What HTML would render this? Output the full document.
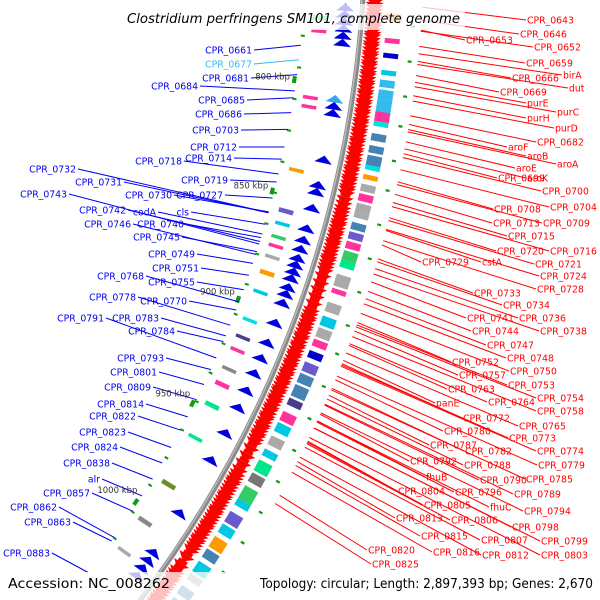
<!DOCTYPE html>
<html><head><meta charset="utf-8"><style>
html,body{margin:0;padding:0;background:#fff;width:600px;height:600px;overflow:hidden;}
svg{display:block;font-family:"DejaVu Sans","Liberation Sans",sans-serif;overflow:hidden;}
</style></head><body>
<svg id="map" width="600" height="600" viewBox="0 0 600 600" xmlns="http://www.w3.org/2000/svg">
<g id="feat"></g>
<g id="lines"></g>
<g id="labs"></g>
<rect x="120" y="4" width="345" height="26" fill="#fff" opacity="0.75"/>
<text x="127" y="23" font-size="13.5" font-style="italic" fill="#000" textLength="333" lengthAdjust="spacingAndGlyphs">Clostridium perfringens SM101, complete genome</text>
<rect x="0" y="572" width="600" height="28" fill="#fff" opacity="0.75"/>
<text x="8" y="588" font-size="13" fill="#000" textLength="162" lengthAdjust="spacingAndGlyphs">Accession: NC_008262</text>
<text x="260" y="588" font-size="13" fill="#000" textLength="333" lengthAdjust="spacingAndGlyphs">Topology: circular; Length: 2,897,393 bp; Genes: 2,670</text>
</svg>
<script>
const CX=-743, CY=-69, R=1108;
// forward-strand gene end positions (kbp)
const fwdEnds=[764,765.5,767,768,769.5,771,772,773.5,775,776,777.5,779,780,781.5,783,784,785.5,787,788,789.5,791,792,793.5,795,796,797.5,799,800,
801.5,803,804,805.5,807,808,809.5,811,812,813.5,815,816,817.5,819,820,821.5,823,824,825.5,827,828,829.5,831,832,833.5,835,836,837.5,839,840,841.5,843,844,845.5,
848,850,852,853.5,855,856.5,858,859,860.5,862,863,864.5,866,867,868.5,870,871.5,873,874,875.5,877,878.5,
881,884,887,890,893,
896,897.5,899,900,901.5,903,904,905.5,907,908,909.5,911,912,913.5,915,916,917.5,919,920,921.5,923,924,925.5,927,928,929.5,931,932,933.5,935,936,937.5,939,940,941.5,943,944,945.5,947,948,949.5,951,952,953.5,955,
958,961.5,965,968,
970,971.5,973,974,975.5,977,978.5,980,981,982.5,984,985.5,987,988,989.5,991,992.5,994,995,996.5,998,999.5,1001,1002,1003.5,1005,1006.5,
1010,1014,1017,1018.5,1020,1021,1022.5,1024,1025,1026.5,1028,1029.5,1031,1032,1033.5,1035];
// reverse-strand gene tip positions (kbp)
const revTips=[765,768,771,774,777,780,804,807,810,830,841,844,851,860,865,869,873,876,879,882,886,889,893,902,911,918,925,933,941,953,966,992,1012,1016,1020,1024];
const revColors=["#0000dd","#0000dd","#0000dd","#0000dd","#0000dd","#0000dd","#33aaee","#0000dd","#0000dd","#0000dd","#0000dd","#0000dd","#0000dd","#0000dd","#0000dd","#0000dd","#0000dd","#0000dd","#0000dd","#0000dd","#0000dd","#0000dd","#0000dd","#0000dd","#0000dd","#0000dd","#0000dd","#0000dd","#0000dd","#0000dd","#0000dd","#0000dd","#0000dd","#0000dd","#0000dd","#0000dd"];
// outer COG boxes: start kbp, length kbp, colour
const outStart=[768,778,784,791,795,799,803,808,812,817,822,826,830,834,838,842,846,850,854,858,862,866,870,876,882,888,894,899,904,909,914,919,924,930,936,941,947,953,958,964,970,976,982,988,994,1000,1006,1012,1018,1024,1030];
const outLen=[3,2,2,2,3,4,6,4,2,3,3,5,2,2,3,3,4,2,3,3,3,4,3,5,2,4,4,4,3,3,4,4,5,3,4,4,4,3,5,4,6,3,5,4,5,4,5,3,4,5,4];
const outColor=["#ff9900","#ff3399","#0000cc","#00c8e0","#33bbee","#33bbee","#33bbee","#ff3399","#00e0e0","#4682b4","#4682b4","#4682b4","#00e0e0","#ff9900","#aaaaaa","#ff3399","#aaaaaa","#aaaaaa","#4682b4","#6a5acd","#ff3399","#33cc66","#00e68a","#aaaaaa","#ff3399","#aaaaaa","#00c8e0","#aaaaaa","#ff3399","#0000cc","#6a5acd","#4682b4","#4682b4","#483d8b","#ff3399","#00c8e0","#aaaaaa","#00c8e0","#00e68a","#777777","#33cc66","#00c8e0","#6a5acd","#00c8e0","#ff9900","#4682b4","#00c8e0","#aaaaaa","#4682b4","#4682b4","#aaaaaa"];
// inner COG boxes
const inStart=[771,777,806,810,838,856,862,868,872,877,884,893,906,914,920,929,936,946,962,985,1004,1020];
const inLen=[2,1.5,1.5,1.5,1.5,2,1.5,1.5,1.5,1.5,2,1.5,1.5,1.5,1.5,1.5,2,2,1.5,2,2,1.5];
const inColor=["#00e68a","#ff3399","#ff3399","#ff3399","#ff9900","#6a5acd","#00c8e0","#33cc66","#ff3399","#aaaaaa","#ff9900","#00c8e0","#00e0e0","#483d8b","#ff3399","#888888","#ff3399","#00e68a","#00e68a","#6b8e23","#888888","#aaaaaa"];
// green marker dots (kbp)
const dotOut=[772,786,800,812,826,838,852,866,880,894,906,920,934,948,962,976,990,1004,1018,1032];
const dotIn=[780,794,808,822,836,850,864,878,892,906,920,934,948,962,976,990,1004,1018];
// tick labels
const tickKbp=[800,850,900,950,1000];
const tickText=["800 kbp","850 kbp","900 kbp","950 kbp","1000 kbp"];

const NS="http://www.w3.org/2000/svg";
function ang(k){return (8.15+(k-800)*0.1243)*Math.PI/180;}
function P(r,k){const t=ang(k);return [CX+r*Math.cos(t),CY+r*Math.sin(t)];}
function pts(a){return a.map(p=>p[0].toFixed(1)+","+p[1].toFixed(1)).join(" ");}
function mk(tag,attrs,parent){const e=document.createElementNS(NS,tag);for(const k in attrs)e.setAttribute(k,attrs[k]);parent.appendChild(e);return e;}
const feat=document.getElementById('feat'), lines=document.getElementById('lines'), labs=document.getElementById('labs');

function arcD(r,a,b){const p=P(r,a),q=P(r,b);return `M${p[0]},${p[1]} A${r},${r} 0 0 1 ${q[0]},${q[1]}`;}
let bb=mk('path',{d:arcD(R,750,1045),stroke:'#8a8a8a','stroke-width':5,fill:'none'},feat);


let bb2=mk('path',{d:arcD(R-1,750,1045),stroke:'#b8b8b8','stroke-width':1.5,fill:'none'},feat);



fwdEnds.forEach(e=>{
  const s=e-3.2;
  const poly=[P(R+3,s),P(R+21,s),P(R+12,e)];
  const g=mk('polygon',{points:pts(poly),fill:'#ff0000'},feat);
  
  
  const b=mk('polygon',{points:pts([P(R+7,s-1.5),P(R+17,s-1.5),P(R+17,s),P(R+7,s)]),fill:'#ff0000'},feat);
  
  
});
revTips.forEach((t,i)=>{
  const s=t+3.2;
  const poly=[P(R-8,s),P(R-26,s),P(R-17,t)];
  const g=mk('polygon',{points:pts(poly),fill:revColors[i]},feat);
  
  
});
function box(r1,r2,a,b,c,name){
  const el=mk('polygon',{points:pts([P(r1,a),P(r2,a),P(r2,b),P(r1,b)]),fill:c},feat);
  
  
}
outStart.forEach((s,i)=>box(R+25,R+40,s,s+outLen[i],outColor[i],'outer-cog-box'));
inStart.forEach((s,i)=>box(R-34,R-49,s,s+inLen[i],inColor[i],'inner-cog-box'));
dotOut.forEach(k=>box(R+50,R+54,k,k+0.9,'#119911','outer-marker'));
dotIn.forEach(k=>box(R-55,R-59,k,k+0.9,'#119911','inner-marker'));
tickKbp.forEach((k,i)=>{
  box(R-58,R-62,k-1.5,k+1.5,'#119911','tick-mark');
  const p=P(R-82,k);
  const t=mk('text',{x:p[0].toFixed(1),y:(p[1]+3).toFixed(1),'font-size':8.5,fill:'#333','text-anchor':'middle'},labs);
  t.textContent=tickText[i];
  
  
});

const red=[["CPR_0643",527,20],["CPR_0646",520,34],["CPR_0653",466,40],["CPR_0652",534,47],["CPR_0659",526,63],["CPR_0666",512,78],["birA",563,75],["dut",569,88],["CPR_0669",500,92],["purE",527,103],["purC",557,112],["purH",527,118],["purD",555,128],["CPR_0682",537,142],["aroF",508,147],["aroB",527,156],["aroA",557,164],["aroE",516,168],["CPR_0699",498,178],["aroK",527,178],["CPR_0700",542,191],["CPR_0704",550,207],["CPR_0708",494,209],["CPR_0713",493,223],["CPR_0709",543,223],["CPR_0715",508,236],["CPR_0720",497,251],["CPR_0716",550,251],["CPR_0721",535,264],["CPR_0729",422,262],["cstA",482,262],["CPR_0724",540,276],["CPR_0728",537,289],["CPR_0733",474,293],["CPR_0734",503,305],["CPR_0741",467,318],["CPR_0736",519,318],["CPR_0744",472,331],["CPR_0738",540,331],["CPR_0747",487,345],["CPR_0748",507,358],["CPR_0752",452,362],["CPR_0750",510,371],["CPR_0757",459,375],["CPR_0753",508,385],["CPR_0763",448,389],["CPR_0754",537,398],["CPR_0764",488,402],["panE",436,403],["CPR_0758",537,411],["CPR_0772",463,418],["CPR_0765",519,426],["CPR_0780",444,431],["CPR_0773",509,438],["CPR_0787",430,445],["CPR_0782",465,451],["CPR_0774",537,451],["CPR_0792",410,461],["CPR_0788",464,465],["CPR_0779",538,465],["fhuB",426,477],["CPR_0790",480,480],["CPR_0785",526,479],["CPR_0804",398,491],["CPR_0796",455,492],["CPR_0789",514,494],["CPR_0805",424,505],["fhuC",490,507],["CPR_0794",524,511],["CPR_0813",396,518],["CPR_0806",451,520],["CPR_0798",512,527],["CPR_0815",421,536],["CPR_0807",481,540],["CPR_0799",541,541],["CPR_0820",368,550],["CPR_0816",433,552],["CPR_0812",482,555],["CPR_0803",541,555],["CPR_0825",372,564]];
const blue=[["CPR_0661",252,50],["CPR_0677",252,64],["CPR_0681",249,78],["CPR_0684",198,86],["CPR_0685",245,100],["CPR_0686",242,114],["CPR_0703",239,130],["CPR_0712",237,147],["CPR_0714",232,158],["CPR_0718",182,161],["CPR_0719",228,180],["CPR_0732",76,169],["CPR_0731",122,182],["CPR_0730",172,195],["CPR_0727",223,195],["CPR_0743",67,194],["CPR_0742",126,210],["codA",156,212],["cls",189,212],["CPR_0746",131,224],["CPR_0740",184,224],["CPR_0745",180,237],["CPR_0749",195,254],["CPR_0751",199,268],["CPR_0768",144,276],["CPR_0755",195,282],["CPR_0778",136,297],["CPR_0770",187,301],["CPR_0791",104,318],["CPR_0783",159,318],["CPR_0784",175,331],["CPR_0793",164,358],["CPR_0801",157,372],["CPR_0809",151,387],["CPR_0814",144,404],["CPR_0822",136,416],["CPR_0823",126,432],["CPR_0824",118,447],["CPR_0838",110,463],["alr",100,479],["CPR_0857",90,493],["CPR_0862",57,507],["CPR_0863",71,522],["CPR_0883",50,553]];
red.forEach(([n,x,y])=>{
  const t=Math.atan2(y-CY-6,x-CX);
  const r0=R+60;
  const ln=mk('line',{x1:(CX+r0*Math.cos(t)).toFixed(1),y1:(CY+r0*Math.sin(t)).toFixed(1),x2:x-1,y2:y,stroke:'#ff0000','stroke-width':1},lines);
  
  
  const tx=mk('text',{x:x,y:y+3.5,'font-size':9.3,fill:'#ff0000'},labs);
  tx.textContent=n;
  
  
});
blue.forEach(([n,x,y])=>{
  const t=Math.atan2(y-CY-10,x-CX);
  const r0=R-58;
  const c=n==="CPR_0677"?"#33bbee":"#0000ee";
  const ln=mk('line',{x1:x+2,y1:y,x2:(CX+r0*Math.cos(t)).toFixed(1),y2:(CY+r0*Math.sin(t)).toFixed(1),stroke:c,'stroke-width':1},lines);
  
  
  const tx=mk('text',{x:x,y:y+3.5,'font-size':9.3,fill:c,'text-anchor':'end'},labs);
  tx.textContent=n;
  
  
});
</script>
</body></html>
